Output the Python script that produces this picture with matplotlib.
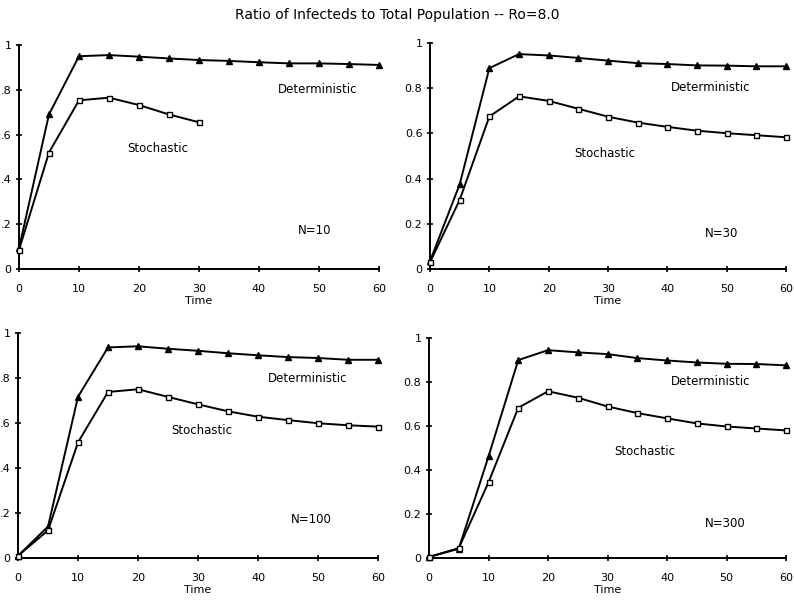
import matplotlib
matplotlib.use("Agg")
import matplotlib.pyplot as plt
from matplotlib.ticker import FuncFormatter

plt.rcParams['font.family'] = ['DejaVu Sans']

time = [0, 5, 10, 15, 20, 25, 30, 35, 40, 45, 50, 55, 60]
time_n10_stoch = [0, 5, 10, 15, 20, 25, 30]

det_n10 = [0.092, 0.69, 0.95, 0.955, 0.948, 0.94, 0.933, 0.929, 0.923, 0.918, 0.918, 0.915, 0.911]
sto_n10 = [0.085, 0.52, 0.753, 0.765, 0.732, 0.69, 0.655]

det_n30 = [0.035, 0.375, 0.889, 0.951, 0.945, 0.934, 0.922, 0.911, 0.907, 0.901, 0.90, 0.897, 0.897]
sto_n30 = [0.03, 0.306, 0.675, 0.764, 0.744, 0.709, 0.674, 0.648, 0.629, 0.612, 0.601, 0.592, 0.583]

det_n100 = [0.01, 0.14, 0.717, 0.936, 0.941, 0.93, 0.921, 0.91, 0.901, 0.893, 0.889, 0.881, 0.881]
sto_n100 = [0.01, 0.123, 0.514, 0.738, 0.75, 0.716, 0.683, 0.652, 0.628, 0.613, 0.599, 0.59, 0.584]

det_n300 = [0.005, 0.042, 0.462, 0.90, 0.945, 0.935, 0.927, 0.909, 0.898, 0.889, 0.883, 0.882, 0.876]
sto_n300 = [0.005, 0.045, 0.344, 0.683, 0.758, 0.729, 0.689, 0.659, 0.635, 0.612, 0.598, 0.589, 0.58]

panel_labels = ["N=10", "N=30", "N=100", "N=300"]

# axes rectangles in figure fraction (left, bottom, width, height)
rects = [
    [0.0239, 0.5524, 0.4534, 0.3727],
    [0.5416, 0.5524, 0.4484, 0.3760],
    [0.0227, 0.0715, 0.4534, 0.3744],
    [0.5403, 0.0715, 0.4497, 0.3660],
]

# (det label x,y), (stoch label x,y), (N label x,y)
label_pos = [
    ((49.7, 0.80), (23.2, 0.54), (49.3, 0.17)),
    ((47.3, 0.805), (29.5, 0.513), (49.1, 0.155)),
    ((48.3, 0.797), (30.6, 0.566), (48.8, 0.17)),
    ((47.3, 0.803), (36.3, 0.485), (49.8, 0.156)),
]

series = [
    (time, det_n10, time_n10_stoch, sto_n10),
    (time, det_n30, time, sto_n30),
    (time, det_n100, time, sto_n100),
    (time, det_n300, time, sto_n300),
]


def fmt_y_full(v, pos):
    if abs(v) < 1e-9:
        return "0"
    if abs(v - 1) < 1e-9:
        return "1"
    return f"{v:.1f}"


def fmt_y_short(v, pos):
    # left panels: the leading "0" is cut off by the page edge in the original
    s = fmt_y_full(v, pos)
    if s.startswith("0."):
        s = s[1:]
    return s


fig = plt.figure(figsize=(7.94, 6.01), dpi=100)
fig.text(0.5, 0.975, "Ratio of Infecteds to Total Population -- Ro=8.0",
         ha='center', va='center', fontsize=10)

for i, rect in enumerate(rects):
    ax = fig.add_axes(rect)
    td, det, ts, sto = series[i]
    ax.plot(td, det, color='black', lw=1.4, marker='^', ms=4.8,
            mfc='black', mec='black', clip_on=False, zorder=3)
    ax.plot(ts, sto, color='black', lw=1.4, marker='s', ms=3.6,
            mfc='white', mec='black', mew=1.0, clip_on=False, zorder=3)
    ax.set_xlim(0, 60)
    ax.set_ylim(0, 1)
    ax.set_xticks(range(0, 61, 10))
    ax.set_yticks([0, 0.2, 0.4, 0.6, 0.8, 1.0])
    if i % 2 == 0:
        ax.yaxis.set_major_formatter(FuncFormatter(fmt_y_short))
    else:
        ax.yaxis.set_major_formatter(FuncFormatter(fmt_y_full))
    for s in ['top', 'right']:
        ax.spines[s].set_visible(False)
    for s in ['left', 'bottom']:
        ax.spines[s].set_linewidth(1.4)
    ax.tick_params(axis='both', direction='inout', length=5, width=1.2,
                   labelsize=8)
    ax.tick_params(axis='x', pad=8)
    ax.tick_params(axis='y', pad=3)
    ax.set_xlabel("Time", fontsize=8, labelpad=2)

    (dx, dy), (sx, sy), (nx, ny) = label_pos[i]
    ax.text(dx, dy, "Deterministic", ha='center', va='center', fontsize=8.5)
    ax.text(sx, sy, "Stochastic", ha='center', va='center', fontsize=8.5)
    ax.text(nx, ny, panel_labels[i], ha='center', va='center', fontsize=8.5)

fig.savefig("out.png", dpi=100)
